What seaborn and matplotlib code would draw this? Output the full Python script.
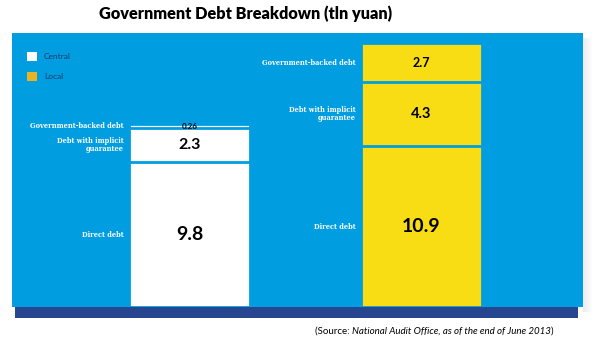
import matplotlib
matplotlib.use("Agg")
import matplotlib.pyplot as plt
from matplotlib.patches import Patch, Rectangle
import seaborn as sns
import pandas as pd
import numpy as np

# ---------------- data ----------------
sectors = ["Central", "Local"]
debt_types = ["Direct debt", "Debt with implicit\nguarantee", "Government-backed debt"]
central_values = [9.8, 2.3, 0.26]
local_values = [10.9, 4.3, 2.7]
central_labels = ["9.8", "2.3", "0.26"]
local_labels = ["10.9", "4.3", "2.7"]
title_text = "Government Debt Breakdown (tln yuan)"
source_parts = ["(Source: ", "National Audit Office, as of the end of June 2013", ")"]

# ---------------- style ----------------
PANEL = "#009EE0"
YELLOW = "#F8DC14"
LEGEND_GOLD = "#E8B422"
STRIP = "#274690"
NAVY = "#1B3A6B"
value_sizes = {"Central": [14, 11.5, 5.8], "Local": [14, 10.5, 9]}

sns.set_style("white")
plt.rcParams["font.family"] = ["Lato", "DejaVu Sans"]

fig = plt.figure(figsize=(6, 3.4), dpi=100)
fig.patch.set_facecolor("white")

W, H = 600, 340
def fx(px):
    return px / W
def fy(py):
    return 1 - py / H

# shadow on the right of the panel
for k in range(9):
    fig.add_artist(Rectangle((fx(583 + k), fy(312)), fx(1), (312 - 38) / H,
                             transform=fig.transFigure, color="#888888",
                             alpha=0.16 * (1 - k / 9), lw=0, zorder=0))

# dark strip under the panel
fig.add_artist(Rectangle((fx(15), fy(318)), fx(578 - 15), (318 - 306) / H,
                         transform=fig.transFigure, color=STRIP, lw=0, zorder=0))

ax = fig.add_axes([fx(12), fy(307), fx(583 - 12), (307 - 32.5) / H])
ax.set_facecolor(PANEL)

rows = []
for s, vals, labs in zip(sectors, [central_values, local_values], [central_labels, local_labels]):
    cum = np.cumsum(vals)
    for i, t in enumerate(debt_types):
        rows.append(dict(sector=s, layer=i, kind=t, value=vals[i], top=cum[i],
                         bottom=cum[i] - vals[i], label=labs[i]))
df = pd.DataFrame(rows)

bar_w = 0.522
palette = {"Central": "white", "Local": YELLOW}
for i in reversed(range(len(debt_types))):
    sub = df[df.layer == i]
    sns.barplot(data=sub, x="sector", y="top", hue="sector", order=sectors,
                hue_order=sectors, palette=palette, saturation=1, width=bar_w,
                edgecolor=PANEL, linewidth=2, legend=False, errorbar=None, ax=ax)

ax.set_xlim(-0.765, 1.696)
ax.set_ylim(0, 18.585)
ax.set_xlabel("")
ax.set_ylabel("")
ax.set_xticks([])
ax.set_yticks([])
for sp in ax.spines.values():
    sp.set_visible(False)

for _, r in df.iterrows():
    xi = sectors.index(r["sector"])
    ymid = r["bottom"] + r["value"] / 2
    ax.text(xi, ymid, r["label"], ha="center", va="center", color="black",
            fontsize=value_sizes[r["sector"]][r["layer"]], fontweight="bold",
            family=["Lato", "DejaVu Sans"])
    ax.text(xi - bar_w / 2 - 0.022, ymid, r["kind"], ha="right", va="center",
            multialignment="right", color="white", fontsize=4.8,
            fontweight="bold", family=["DejaVu Serif"], linespacing=1.0)

# legend
handles = [Patch(facecolor="white", edgecolor="none", label=sectors[0]),
           Patch(facecolor=LEGEND_GOLD, edgecolor="none", label=sectors[1])]
leg = ax.legend(handles=handles, loc="upper left", bbox_to_anchor=(0.021, 0.94),
                frameon=False, fontsize=6, handlelength=1.2, handleheight=1.2,
                handletextpad=0.8, labelspacing=1.35, borderaxespad=0)
for t in leg.get_texts():
    t.set_color(NAVY)

fig.text(fx(245.5), fy(14), title_text, ha="center", va="center",
         fontsize=11.7, fontweight="heavy", color="black")

t1 = fig.text(fx(315), fy(331), source_parts[0], ha="left", va="center",
              fontsize=7, color="black")
t2 = ax.annotate(source_parts[1], xy=(1, 0), xycoords=t1, va="bottom", ha="left",
                 fontsize=7, style="italic", color="black", annotation_clip=False)
t3 = ax.annotate(source_parts[2], xy=(1, 0), xycoords=t2, va="bottom", ha="left",
                 fontsize=7, color="black", annotation_clip=False)

fig.savefig("out.png", dpi=100)
